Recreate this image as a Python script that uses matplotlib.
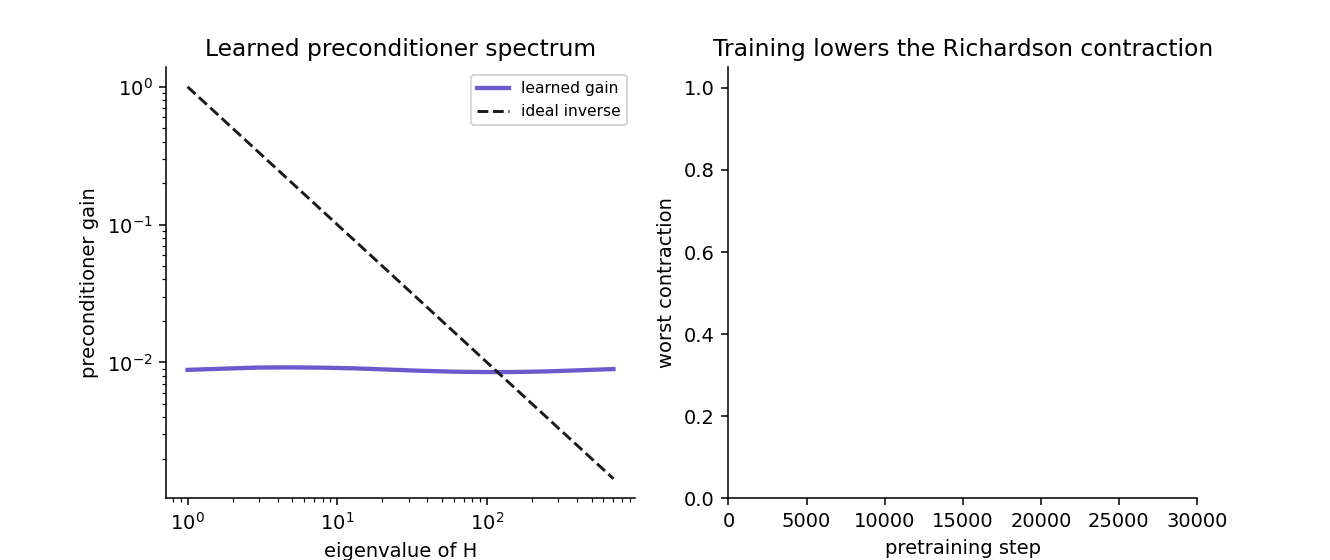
import matplotlib
matplotlib.use("Agg")
import matplotlib.pyplot as plt

# eigenvalues of H sampled along the spectrum
eigenvalues = [1, 2, 3, 5, 8, 13, 20, 35, 60, 100, 150, 250, 400, 700]
learned_gain = [0.00882, 0.00905, 0.00917, 0.0092, 0.00915, 0.00905, 0.0089,
                0.0087, 0.00856, 0.0085, 0.00851, 0.0086, 0.00875, 0.00894]
ideal_inverse = [1.0, 0.5, 0.3333, 0.2, 0.125, 0.07692, 0.05, 0.02857,
                 0.01667, 0.01, 0.006667, 0.004, 0.0025, 0.001429]

fig, (ax1, ax2) = plt.subplots(1, 2, figsize=(9.5, 4), dpi=140)

ax1.loglog(eigenvalues, learned_gain, color="#6a5acd", lw=2.2, label="learned gain")
ax1.loglog(eigenvalues, ideal_inverse, color="#1a1a1a", lw=1.5, ls="--", label="ideal inverse")
ax1.set_xlabel("eigenvalue of H")
ax1.set_ylabel("preconditioner gain")
ax1.set_title("Learned preconditioner spectrum")
ax1.legend(loc="upper right", fontsize=8)

ax2.set_xlim(0, 30000)
ax2.set_ylim(0, 1.05)
ax2.set_xlabel("pretraining step")
ax2.set_ylabel("worst contraction")
ax2.set_title("Training lowers the Richardson contraction")

for ax in (ax1, ax2):
    ax.spines["top"].set_visible(False)
    ax.spines["right"].set_visible(False)

fig.savefig("out.png")
